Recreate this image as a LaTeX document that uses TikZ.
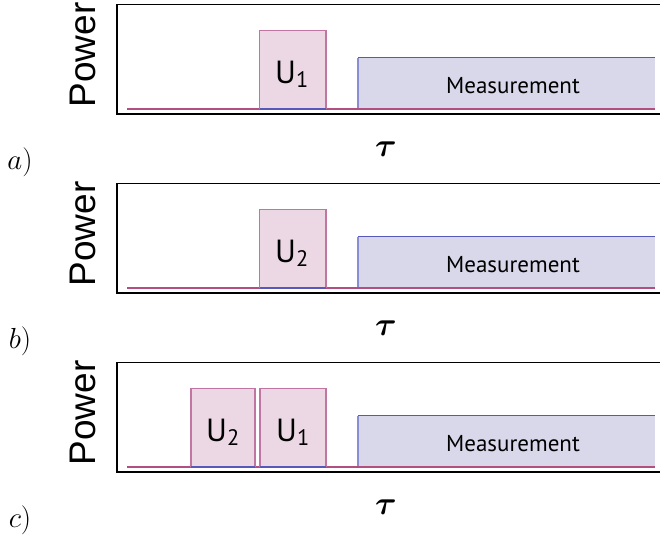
\RequirePackage{fix-cm}
\documentclass[tikz,border=0pt]{standalone}
\usepackage{fontspec}
\usepackage{amsmath,bm}
\newfontfamily\powfont{Liberation Sans}
\newfontfamily\labfont{PT Sans}
\definecolor{pinkfill}{RGB}{235,216,228}
\definecolor{pinkline}{RGB}{192,118,160}
\definecolor{baseln}{RGB}{178,78,128}
\definecolor{lavfill}{RGB}{217,216,234}
\definecolor{blueln}{RGB}{88,88,186}
\definecolor{lblueln}{RGB}{140,140,210}
\tikzset{
  frame/.style={draw=black,line width=1.8pt},
  ubox/.style={fill=pinkfill,draw=pinkline,line width=1.5pt},
  mbox/.style={fill=lavfill},
  powlab/.style={font=\powfont\fontsize{37}{37}\selectfont,rotate=90,inner sep=0pt},
  ulab/.style={font=\labfont\fontsize{32}{32}\selectfont,inner sep=0pt,anchor=base},
  mlab/.style={font=\labfont\fontsize{23}{23}\selectfont,inner sep=0pt,anchor=base},
  taulab/.style={font=\fontsize{33}{33}\selectfont,inner sep=0pt},
  pnlab/.style={font=\fontsize{29}{29}\selectfont,inner sep=0pt}
}
\begin{document}
\begin{tikzpicture}[x=1pt,y=-1pt]
\useasboundingbox (0,0) rectangle (660,543);
\fill[white] (0,0) rectangle (660,543);
\foreach \o/\lab/\pn in {0/a/pa,179/b/pb,358/c/pc}{
  \begin{scope}[yshift=-\o pt]
    % measurement box
    \fill[mbox] (358,57.5) rectangle (655,109);
    \draw[blueln,line width=1.3pt] (358,57.5) -- (655,57.5);
    \draw[lblueln,line width=1.3pt] (358,57.5) -- (358,109);
    % baseline
    \draw[baseln,line width=1.4pt] (127,109) -- (655,109);
    \node[mlab] (\pn m) at (513,93) {Measurement};
    % power label
    \node[powlab] (\pn p) at (83,55) {Power};
    % tau
    \node[taulab] (\pn t) at (386,149) {$\bm{\tau}$};
    % panel label
    \node[pnlab] (\pn l) at (20,162) {$\lab)$};
    % frame
    \draw[frame] (661,4.5) -- (117,4.5) -- (117,114) -- (661,114);
  \end{scope}
}
% pulses panel a
\draw[ubox] (259.5,109) -- (259.5,30.5) -- (326,30.5) -- (326,109);
\fill[pinkfill] (260.3,31.3) rectangle (325.2,108.3);
\draw[blueln,line width=1.4pt] (259.5,109) -- (326,109);
\node[ulab] (ua1) at (292,83) {U\textsubscript{1}};
% panel b
\draw[ubox] (259.5,288) -- (259.5,209.5) -- (326,209.5) -- (326,288);
\fill[pinkfill] (260.3,210.3) rectangle (325.2,287.3);
\draw[blueln,line width=1.4pt] (259.5,288) -- (326,288);
\node[ulab] (ub2) at (292,262) {U\textsubscript{2}};
% panel c
\draw[ubox] (191,467) -- (191,388.5) -- (255,388.5) -- (255,467);
\fill[pinkfill] (191.8,389.3) rectangle (254.2,466.3);
\draw[blueln,line width=1.4pt] (191,467) -- (255,467);
\node[ulab] (uc2) at (223,441) {U\textsubscript{2}};
\draw[ubox] (260,467) -- (260,388.5) -- (326,388.5) -- (326,467);
\fill[pinkfill] (260.8,389.3) rectangle (325.2,466.3);
\draw[blueln,line width=1.4pt] (260,467) -- (326,467);
\node[ulab] (uc1) at (293,441) {U\textsubscript{1}};
\end{tikzpicture}
\end{document}
